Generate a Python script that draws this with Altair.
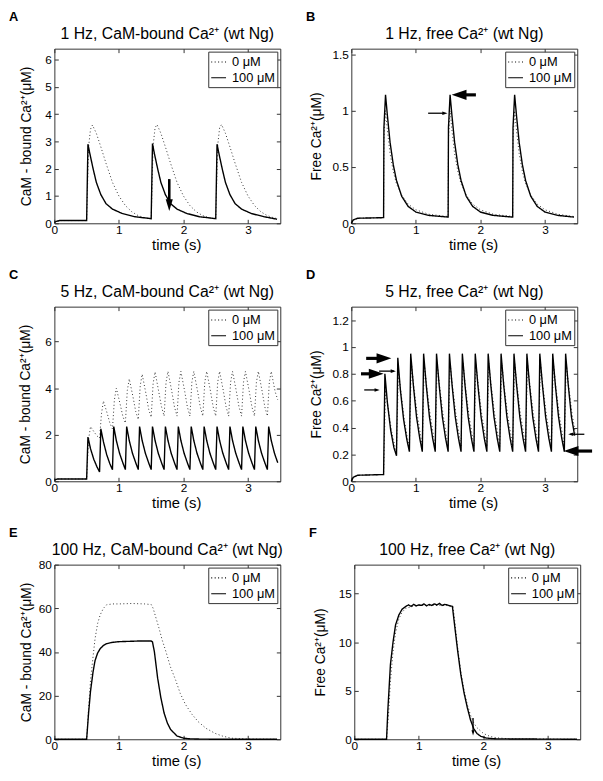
import altair as alt
import pandas as pd

FONT = "Liberation Sans"
S0 = "0 μM"
S1 = "100 μM"
W = 229
H = 177

# ---------------- Panel A: 1 Hz, CaM-bound ----------------
A_t_100 = [0.00, 0.03, 0.08, 0.50,
           0.52, 0.55, 0.60, 0.65, 0.72, 0.80, 0.90, 1.05, 1.25, 1.50,
           1.52, 1.55, 1.60, 1.65, 1.72, 1.80, 1.90, 2.05, 2.25, 2.50,
           2.52, 2.55, 2.60, 2.65, 2.72, 2.80, 2.90, 3.05, 3.25, 3.45]
A_v_100 = [0.03, 0.07, 0.10, 0.10,
           2.90, 2.55, 2.00, 1.50, 1.05, 0.72, 0.52, 0.36, 0.24, 0.17,
           2.92, 2.55, 2.00, 1.50, 1.05, 0.72, 0.52, 0.36, 0.24, 0.17,
           2.90, 2.55, 2.00, 1.50, 1.05, 0.72, 0.52, 0.36, 0.24, 0.15]
A_t_0 = [0.00, 0.03, 0.08, 0.50,
         0.53, 0.56, 0.59, 0.65, 0.72, 0.80, 0.90, 1.00, 1.10, 1.20, 1.30, 1.40, 1.50,
         1.53, 1.56, 1.59, 1.65, 1.72, 1.80, 1.90, 2.00, 2.10, 2.20, 2.30, 2.40, 2.50,
         2.53, 2.56, 2.59, 2.65, 2.72, 2.80, 2.90, 3.00, 3.10, 3.20, 3.30, 3.40, 3.45]
A_v_0 = [0.03, 0.07, 0.10, 0.10,
         2.80, 3.45, 3.60, 3.30, 2.80, 2.20, 1.50, 1.00, 0.65, 0.42, 0.28, 0.20, 0.16,
         2.85, 3.50, 3.62, 3.30, 2.80, 2.20, 1.50, 1.00, 0.65, 0.42, 0.28, 0.20, 0.16,
         2.85, 3.50, 3.62, 3.30, 2.80, 2.20, 1.50, 1.00, 0.65, 0.42, 0.28, 0.20, 0.17]

# ---------------- Panel B: 1 Hz, free ----------------
B_t_100 = [0.00, 0.03, 0.10, 0.50,
           0.505, 0.53, 0.56, 0.60, 0.65, 0.70, 0.78, 0.88, 1.00, 1.20, 1.50,
           1.505, 1.53, 1.56, 1.60, 1.65, 1.70, 1.78, 1.88, 2.00, 2.20, 2.50,
           2.505, 2.53, 2.56, 2.60, 2.65, 2.70, 2.78, 2.88, 3.00, 3.20, 3.45]
B_v_100 = [0.00, 0.03, 0.045, 0.05,
           0.85, 1.14, 0.95, 0.72, 0.52, 0.38, 0.24, 0.15, 0.10, 0.07, 0.055,
           0.85, 1.14, 0.95, 0.72, 0.52, 0.38, 0.24, 0.15, 0.10, 0.07, 0.055,
           0.85, 1.14, 0.95, 0.72, 0.52, 0.38, 0.24, 0.15, 0.10, 0.07, 0.055]
B_t_0 = [0.00, 0.03, 0.10, 0.50,
         0.505, 0.53, 0.56, 0.60, 0.65, 0.70, 0.78, 0.88, 1.00, 1.20, 1.50,
         1.505, 1.53, 1.56, 1.60, 1.65, 1.70, 1.78, 1.88, 2.00, 2.20, 2.50,
         2.505, 2.53, 2.56, 2.60, 2.65, 2.70, 2.78, 2.88, 3.00, 3.20, 3.45]
B_v_0 = [0.00, 0.03, 0.045, 0.05,
         0.75, 1.00, 0.82, 0.62, 0.46, 0.35, 0.25, 0.17, 0.12, 0.08, 0.06,
         0.75, 1.00, 0.82, 0.62, 0.46, 0.35, 0.25, 0.17, 0.12, 0.08, 0.06,
         0.75, 1.00, 0.82, 0.62, 0.46, 0.35, 0.25, 0.17, 0.12, 0.08, 0.06]

# ---------------- Panel C: 5 Hz, CaM-bound ----------------
C_t_100 = [0.00, 0.05, 0.50,
           0.52, 0.56, 0.61, 0.66, 0.70,
           0.72, 0.76, 0.81, 0.86, 0.90,
           0.92, 0.96, 1.01, 1.06, 1.10,
           1.12, 1.16, 1.21, 1.26, 1.30,
           1.32, 1.36, 1.41, 1.46, 1.50,
           1.52, 1.56, 1.61, 1.66, 1.70,
           1.72, 1.76, 1.81, 1.86, 1.90,
           1.92, 1.96, 2.01, 2.06, 2.10,
           2.12, 2.16, 2.21, 2.26, 2.30,
           2.32, 2.36, 2.41, 2.46, 2.50,
           2.52, 2.56, 2.61, 2.66, 2.70,
           2.72, 2.76, 2.81, 2.86, 2.90,
           2.92, 2.96, 3.01, 3.06, 3.10,
           3.12, 3.16, 3.21, 3.26, 3.30,
           3.32, 3.36, 3.41, 3.46]
C_v_100 = [0.05, 0.10, 0.10,
           1.90, 1.40, 0.95, 0.62, 0.40,
           2.25, 1.70, 1.15, 0.75, 0.50,
           2.35, 1.75, 1.20, 0.80, 0.50,
           2.35, 1.75, 1.20, 0.80, 0.50,
           2.35, 1.75, 1.20, 0.80, 0.50,
           2.35, 1.75, 1.20, 0.80, 0.50,
           2.35, 1.75, 1.20, 0.80, 0.50,
           2.35, 1.75, 1.20, 0.80, 0.50,
           2.35, 1.75, 1.20, 0.80, 0.50,
           2.35, 1.75, 1.20, 0.80, 0.50,
           2.35, 1.75, 1.20, 0.80, 0.50,
           2.35, 1.75, 1.20, 0.80, 0.50,
           2.35, 1.75, 1.20, 0.80, 0.50,
           2.35, 1.75, 1.20, 0.80, 0.50,
           2.35, 1.75, 1.20, 0.80]
C_t_0 = [0.00, 0.05, 0.50,
         0.53, 0.56, 0.62, 0.66, 0.70,
         0.73, 0.76, 0.82, 0.86, 0.90,
         0.93, 0.96, 1.02, 1.06, 1.10,
         1.13, 1.16, 1.22, 1.26, 1.30,
         1.33, 1.36, 1.42, 1.46, 1.50,
         1.53, 1.56, 1.62, 1.66, 1.70,
         1.73, 1.76, 1.82, 1.86, 1.90,
         1.93, 1.96, 2.02, 2.06, 2.10,
         2.13, 2.16, 2.22, 2.26, 2.30,
         2.33, 2.36, 2.42, 2.46, 2.50,
         2.53, 2.56, 2.62, 2.66, 2.70,
         2.73, 2.76, 2.82, 2.86, 2.90,
         2.93, 2.96, 3.02, 3.06, 3.10,
         3.13, 3.16, 3.22, 3.26, 3.30,
         3.33, 3.36, 3.42, 3.46]
C_v_0 = [0.05, 0.10, 0.10,
         1.80, 2.35, 2.10, 1.95, 1.85,
         2.90, 3.45, 2.90, 2.50, 2.25,
         3.50, 4.00, 3.30, 2.80, 2.50,
         3.90, 4.40, 3.60, 3.00, 2.65,
         4.10, 4.60, 3.75, 3.10, 2.75,
         4.20, 4.70, 3.80, 3.20, 2.80,
         4.25, 4.72, 3.85, 3.20, 2.80,
         4.25, 4.72, 3.85, 3.20, 2.80,
         4.25, 4.72, 3.85, 3.20, 2.80,
         4.25, 4.72, 3.85, 3.20, 2.80,
         4.25, 4.72, 3.85, 3.20, 2.80,
         4.25, 4.72, 3.85, 3.20, 2.80,
         4.25, 4.72, 3.85, 3.20, 2.80,
         4.25, 4.72, 3.85, 3.20, 2.80,
         4.25, 4.72, 3.85, 3.50]

# ---------------- Panel D: 5 Hz, free ----------------
D_t_100 = [0.00, 0.03, 0.10, 0.50,
           0.52, 0.56, 0.61, 0.66, 0.70,
           0.72, 0.76, 0.81, 0.86, 0.90,
           0.92, 0.96, 1.01, 1.06, 1.10,
           1.12, 1.16, 1.21, 1.26, 1.30,
           1.32, 1.36, 1.41, 1.46, 1.50,
           1.52, 1.56, 1.61, 1.66, 1.70,
           1.72, 1.76, 1.81, 1.86, 1.90,
           1.92, 1.96, 2.01, 2.06, 2.10,
           2.12, 2.16, 2.21, 2.26, 2.30,
           2.32, 2.36, 2.41, 2.46, 2.50,
           2.52, 2.56, 2.61, 2.66, 2.70,
           2.72, 2.76, 2.81, 2.86, 2.90,
           2.92, 2.96, 3.01, 3.06, 3.10,
           3.12, 3.16, 3.21, 3.26, 3.30,
           3.32, 3.36, 3.41, 3.46]
D_v_100 = [0.00, 0.03, 0.045, 0.05,
           0.80, 0.58, 0.38, 0.25, 0.19,
           0.92, 0.68, 0.46, 0.31, 0.22,
           0.95, 0.72, 0.48, 0.32, 0.22,
           0.95, 0.72, 0.48, 0.32, 0.22,
           0.95, 0.72, 0.48, 0.32, 0.22,
           0.95, 0.72, 0.48, 0.32, 0.22,
           0.95, 0.72, 0.48, 0.32, 0.22,
           0.95, 0.72, 0.48, 0.32, 0.22,
           0.95, 0.72, 0.48, 0.32, 0.22,
           0.95, 0.72, 0.48, 0.32, 0.22,
           0.95, 0.72, 0.48, 0.32, 0.22,
           0.95, 0.72, 0.48, 0.32, 0.22,
           0.95, 0.72, 0.48, 0.32, 0.22,
           0.95, 0.72, 0.48, 0.32, 0.22,
           0.95, 0.72, 0.48, 0.34]
D_t_0 = [0.00, 0.03, 0.10, 0.50,
         0.53, 0.57, 0.62, 0.67, 0.70,
         0.73, 0.77, 0.82, 0.87, 0.90,
         0.93, 0.97, 1.02, 1.07, 1.10,
         1.13, 1.17, 1.22, 1.27, 1.30,
         1.33, 1.37, 1.42, 1.47, 1.50,
         1.53, 1.57, 1.62, 1.67, 1.70,
         1.73, 1.77, 1.82, 1.87, 1.90,
         1.93, 1.97, 2.02, 2.07, 2.10,
         2.13, 2.17, 2.22, 2.27, 2.30,
         2.33, 2.37, 2.42, 2.47, 2.50,
         2.53, 2.57, 2.62, 2.67, 2.70,
         2.73, 2.77, 2.82, 2.87, 2.90,
         2.93, 2.97, 3.02, 3.07, 3.10,
         3.13, 3.17, 3.22, 3.27, 3.30,
         3.33, 3.37, 3.42, 3.47]
D_v_0 = [0.00, 0.03, 0.045, 0.05,
         0.68, 0.55, 0.38, 0.27, 0.22,
         0.82, 0.66, 0.46, 0.32, 0.25,
         0.88, 0.70, 0.50, 0.35, 0.26,
         0.88, 0.70, 0.50, 0.35, 0.26,
         0.88, 0.70, 0.50, 0.35, 0.26,
         0.88, 0.70, 0.50, 0.35, 0.26,
         0.88, 0.70, 0.50, 0.35, 0.26,
         0.88, 0.70, 0.50, 0.35, 0.26,
         0.88, 0.70, 0.50, 0.35, 0.26,
         0.88, 0.70, 0.50, 0.35, 0.26,
         0.88, 0.70, 0.50, 0.35, 0.26,
         0.88, 0.70, 0.50, 0.35, 0.26,
         0.88, 0.70, 0.50, 0.35, 0.26,
         0.88, 0.70, 0.50, 0.35, 0.26,
         0.88, 0.70, 0.50, 0.36]

# ---------------- Panel E: 100 Hz, CaM-bound ----------------
E_t_100 = [0.00, 0.50, 0.53, 0.56, 0.60, 0.63, 0.67, 0.71, 0.76, 0.81,
           0.90, 1.00, 1.10, 1.20, 1.30, 1.40, 1.50, 1.52, 1.55, 1.60,
           1.65, 1.70, 1.75, 1.80, 1.90, 2.00, 2.10, 2.30, 2.60, 3.45]
E_v_100 = [0.0, 0.0, 12.0, 22.0, 31.0, 36.0, 39.5, 41.5, 43.0, 43.8,
           44.4, 44.7, 44.8, 44.9, 45.0, 45.0, 45.0, 44.6, 40.0, 28.0,
           19.0, 12.0, 7.5, 4.5, 1.5, 0.5, 0.2, 0.05, 0.0, 0.0]
E_t_0 = [0.00, 0.50, 0.53, 0.56, 0.60, 0.63, 0.67, 0.71, 0.76, 0.81,
         0.90, 1.00, 1.20, 1.40, 1.50, 1.53, 1.57, 1.62, 1.67, 1.73,
         1.80, 1.88, 1.95, 2.03, 2.13, 2.23, 2.35, 2.49, 2.60, 2.74,
         3.00, 3.45]
E_v_0 = [0.0, 0.0, 14.0, 27.0, 38.0, 46.0, 53.0, 57.0, 60.0, 61.6,
         62.0, 62.0, 62.2, 62.0, 61.7, 60.0, 56.0, 51.0, 45.5, 40.0,
         33.0, 27.0, 21.0, 16.0, 11.5, 8.0, 5.0, 2.7, 1.5, 0.5,
         0.1, 0.0]

# ---------------- Panel F: 100 Hz, free ----------------
F_t_100 = [0.00, 0.50, 0.52, 0.56, 0.60, 0.64, 0.69, 0.74, 0.80, 0.84,
           0.88, 0.92, 0.96, 1.00, 1.04, 1.08, 1.12, 1.16, 1.20, 1.24,
           1.28, 1.32, 1.36, 1.40, 1.44, 1.48, 1.52, 1.55, 1.60, 1.65,
           1.70, 1.75, 1.80, 1.85, 1.90, 1.96, 2.05, 2.20, 3.45]
F_v_100 = [0.0, 0.0, 3.0, 7.7, 10.0, 11.8, 12.8, 13.4, 13.7, 13.85,
           13.7, 13.9, 13.75, 13.85, 13.8, 13.95, 13.75, 13.9, 13.8, 13.95,
           13.85, 14.0, 13.8, 13.9, 13.85, 13.75, 13.7, 12.0, 9.2, 6.7,
           4.8, 3.3, 2.0, 1.1, 0.6, 0.3, 0.12, 0.04, 0.0]
F_t_0 = [0.00, 0.50, 0.53, 0.56, 0.60, 0.64, 0.69, 0.74, 0.80, 0.90,
         1.00, 1.10, 1.20, 1.30, 1.40, 1.50, 1.53, 1.56, 1.60, 1.65,
         1.70, 1.75, 1.80, 1.85, 1.90, 2.00, 2.10, 2.20, 2.40, 3.45]
F_v_0 = [0.0, 0.0, 2.5, 6.0, 9.0, 11.0, 12.4, 13.1, 13.5, 13.7,
         13.8, 13.8, 13.8, 13.8, 13.8, 13.75, 13.7, 12.0, 9.5, 7.0,
         5.1, 3.6, 2.5, 1.7, 1.2, 0.6, 0.3, 0.15, 0.05, 0.0]

# ---------------- Annotation arrows (data coordinates) ----------------
HEAD_R = "M0,0L-1,-0.34L-1,0.34Z"
HEAD_L = "M0,0L1,-0.34L1,0.34Z"
HEAD_D = "M0,0L-0.3,-1L0.3,-1Z"

A_arrows = dict(t=[1.78], v=[1.62], t2=[1.78], v2=[0.85], tt=[1.78], tv=[0.45],
                shp=[HEAD_D], sz=[576], sw=[2.6])
B_arrows = dict(t=[1.93, 1.19], v=[1.14, 0.977], t2=[1.74, 1.43], v2=[1.14, 0.977],
                tt=[1.555, 1.49], tv=[1.14, 0.977],
                shp=[HEAD_L, HEAD_R], sz=[900, 110], sw=[3.2, 1.3])
D_arrows = dict(t=[0.15, 0.20, 0.23, 0.43, 3.61, 3.73],
                v=[0.80, 0.68, 0.915, 0.82, 0.35, 0.225],
                t2=[0.30, 0.40, 0.40, 0.66, 3.39, 3.50],
                v2=[0.80, 0.68, 0.915, 0.82, 0.35, 0.225],
                tt=[0.50, 0.44, 0.62, 0.69, 3.36, 3.29],
                tv=[0.80, 0.68, 0.915, 0.82, 0.35, 0.225],
                shp=[HEAD_R, HEAD_R, HEAD_R, HEAD_R, HEAD_L, HEAD_L],
                sz=[900, 110, 900, 110, 110, 900],
                sw=[3.2, 1.3, 3.2, 1.3, 1.3, 3.2])
F_arrows = dict(t=[1.84], v=[2.2], t2=[1.84], v2=[0.8], tt=[1.84], tv=[0.4],
                shp=[HEAD_D], sz=[110], sw=[1.3])

XT = [0, 1, 2, 3]


def series_df(t, v, name):
    return pd.DataFrame({"t": t, "v": v, "s": name, "i": list(range(len(t)))})


def make_panel(letter, title, ytitle, ydom, yticks, t0, v0, t1, v1, arrows, title_x):
    xs = alt.Scale(domain=[0, 3.5], nice=False, zero=False)
    ys = alt.Scale(domain=ydom, nice=False, zero=False)
    xaxis = alt.Axis(values=XT, title="time (s)", offset=-4, tickSize=4, domain=False,
                     labelPadding=1, labelFlush=False, titleFontSize=15,
                     titleX=W / 2 + 9, titleY=31, titleBaseline="alphabetic",
                     titleAlign="center")
    yaxis = alt.Axis(values=yticks, title=ytitle, labelExpr="'' + datum.value",
                     offset=-4, tickSize=4, domain=False, labelPadding=3,
                     labelFlush=False, titleFontSize=14,
                     titleX=title_x, titleBaseline="middle")
    legend = alt.Legend(title=None, orient="top-right", offset=3, padding=2,
                        strokeColor="#333", fillColor="white", labelFont=FONT,
                        labelFontSize=13, labelColor="black", symbolType="stroke",
                        symbolSize=225, symbolStrokeWidth=1.2,
                        symbolStrokeColor="black", rowPadding=0, labelOffset=5,
                        cornerRadius=0)
    sd = alt.StrokeDash("s:N", scale=alt.Scale(domain=[S0, S1], range=[[1, 2.5], [1, 0]]),
                        legend=legend)

    def X(f):
        return alt.X(f + ":Q", scale=xs, axis=xaxis)

    def Y(f):
        return alt.Y(f + ":Q", scale=ys, axis=yaxis)

    dotted = alt.Chart(series_df(t0, v0, S0)).mark_line(
        color="#333", strokeWidth=1.0, strokeCap="butt").encode(
        x=X("t"), y=Y("v"), strokeDash=sd, order="i:Q")
    solid = alt.Chart(series_df(t1, v1, S1)).mark_line(
        color="black", strokeWidth=1.4).encode(
        x=X("t"), y=Y("v"), strokeDash=sd, order="i:Q")
    layers = [dotted, solid]
    if arrows is not None:
        adf = pd.DataFrame(arrows)
        rules = alt.Chart(adf).mark_rule(color="black", strokeCap="butt").encode(
            x=X("t"), x2="t2", y=Y("v"), y2="v2",
            strokeWidth=alt.StrokeWidth("sw:Q", scale=None))
        heads = alt.Chart(adf).mark_point(filled=True, color="black", opacity=1,
                                          strokeWidth=0).encode(
            x=X("tt"), y=Y("tv"), shape=alt.Shape("shp:N", scale=None),
            size=alt.Size("sz:Q", scale=None))
        layers += [rules, heads]
    lab = alt.Chart(pd.DataFrame({"l": [letter]})).mark_text(
        align="left", baseline="alphabetic", fontSize=13, fontWeight="bold",
        font=FONT, color="black").encode(
        x=alt.value(-46), y=alt.value(-28), text="l:N")
    ttl = alt.Chart(pd.DataFrame({"l": [title]})).mark_text(
        align="center", baseline="alphabetic", fontSize=16, font=FONT,
        color="black").encode(
        x=alt.value(W / 2), y=alt.value(-10), text="l:N")
    layers += [lab, ttl]
    inner = alt.layer(*layers)

    mirror = alt.Chart(pd.DataFrame({"t": [0.0], "v": [0.0]})).mark_point(opacity=0).encode(
        x=alt.X("t:Q", scale=xs, axis=alt.Axis(orient="top", values=XT, labels=False,
                                                title=None, offset=-4, tickSize=4,
                                                domain=False)),
        y=alt.Y("v:Q", scale=ys, axis=alt.Axis(orient="right", values=yticks, labels=False,
                                                title=None, offset=-4, tickSize=4,
                                                domain=False)))
    panel = alt.layer(inner, mirror).resolve_scale(x="independent", y="independent")
    return panel.properties(width=W, height=H)


pA = make_panel("A", "1 Hz, CaM-bound Ca²⁺ (wt Ng)", "CaM - bound  Ca²⁺(μM)", [0, 6.4],
                [0, 1, 2, 3, 4, 5, 6], A_t_0, A_v_0, A_t_100, A_v_100, A_arrows, -32)
pB = make_panel("B", "1 Hz, free Ca²⁺ (wt Ng)", "Free  Ca²⁺(μM)", [0, 1.55],
                [0, 0.5, 1, 1.5], B_t_0, B_v_0, B_t_100, B_v_100, B_arrows, -39)
pC = make_panel("C", "5 Hz, CaM-bound Ca²⁺ (wt Ng)", "CaM - bound  Ca²⁺(μM)", [0, 7.5],
                [0, 2, 4, 6], C_t_0, C_v_0, C_t_100, C_v_100, None, -33)
pD = make_panel("D", "5 Hz, free Ca²⁺ (wt Ng)", "Free  Ca²⁺(μM)", [0, 1.3],
                [0, 0.2, 0.4, 0.6, 0.8, 1, 1.2], D_t_0, D_v_0, D_t_100, D_v_100, D_arrows, -39)
pE = make_panel("E", "100 Hz, CaM-bound Ca²⁺ (wt Ng)", "CaM - bound  Ca²⁺(μM)", [0, 80],
                [0, 20, 40, 60, 80], E_t_0, E_v_0, E_t_100, E_v_100, None, -32)
pF = make_panel("F", "100 Hz, free Ca²⁺ (wt Ng)", "Free  Ca²⁺(μM)", [0, 18],
                [0, 5, 10, 15], F_t_0, F_v_0, F_t_100, F_v_100, F_arrows, -38)


def row(a, b):
    return alt.hconcat(a, b, spacing=24).resolve_scale(strokeDash="independent").resolve_legend(
        strokeDash="independent")


chart = alt.vconcat(row(pA, pB), row(pC, pD), row(pE, pF), spacing=14.5,
                    padding={"left": 0, "top": -3, "right": 0, "bottom": 0}).resolve_scale(
    strokeDash="independent").resolve_legend(strokeDash="independent").configure_view(
    stroke="#333", strokeWidth=1).configure_axis(
    labelFont=FONT, labelFontSize=12, labelColor="black", titleFont=FONT,
    titleColor="black", titleFontWeight="normal", tickColor="#333", grid=False)

chart.save("out.html", embed_options={"renderer": "svg", "actions": False})
